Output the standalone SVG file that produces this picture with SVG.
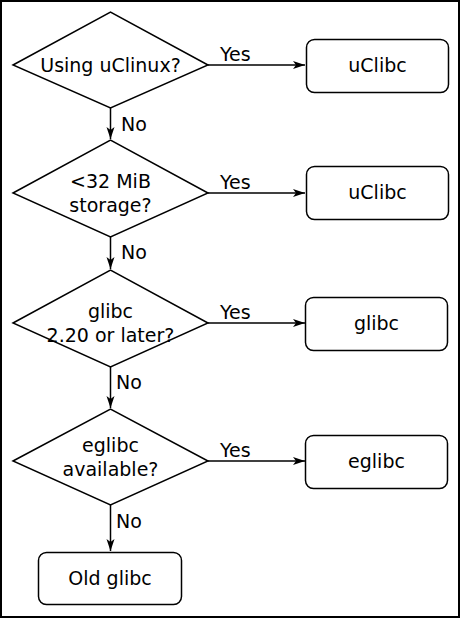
<svg xmlns="http://www.w3.org/2000/svg" width="460" height="618" viewBox="0 0 460 618">
<defs>
<style>
.shape{fill:#fff;stroke:#000;stroke-width:1.5}
.line{fill:none;stroke:#000;stroke-width:1.5}
text{font-family:"DejaVu Sans",sans-serif;font-size:19px;fill:#000}
.c{text-anchor:middle}
</style>
<marker id="ah" markerWidth="14" markerHeight="10" viewBox="-13 -5 14 10" refX="0" refY="0" orient="auto" markerUnits="userSpaceOnUse">
<path d="M0,0 L-12,-4 L-9,0 L-12,4 Z" fill="#000"/>
</marker>
</defs>
<rect x="1" y="1" width="458" height="616" fill="#fff" stroke="#000" stroke-width="2"/>
<g id="connectors">
<line class="line" x1="208" y1="65" x2="305" y2="65" marker-end="url(#ah)"/>
<text x="220" y="61">Yes</text>
<line class="line" x1="110.5" y1="108" x2="110.5" y2="139" marker-end="url(#ah)"/>
<text x="121" y="131">No</text>
<line class="line" x1="208" y1="193" x2="305" y2="193" marker-end="url(#ah)"/>
<text x="220" y="189">Yes</text>
<line class="line" x1="110.5" y1="237" x2="110.5" y2="269" marker-end="url(#ah)"/>
<text x="121" y="259">No</text>
<line class="line" x1="208" y1="323" x2="305" y2="323" marker-end="url(#ah)"/>
<text x="220" y="319">Yes</text>
<line class="line" x1="110.5" y1="367" x2="110.5" y2="408" marker-end="url(#ah)"/>
<text x="116" y="389">No</text>
<line class="line" x1="208" y1="461" x2="305" y2="461" marker-end="url(#ah)"/>
<text x="220" y="457">Yes</text>
<line class="line" x1="110.5" y1="505" x2="110.5" y2="551" marker-end="url(#ah)"/>
<text x="116" y="528">No</text>
</g>
<g id="d1">
<polygon class="shape" points="13,65 110.5,12 208,65 110.5,108"/>
<text class="c" x="110.5" y="72">Using uClinux?</text>
</g>
<g id="b1">
<rect class="shape" x="306.5" y="39.5" width="142" height="53" rx="8"/>
<text class="c" x="377.5" y="72">uClibc</text>
</g>
<g id="d2">
<polygon class="shape" points="13,193 110.5,140 208,193 110.5,237"/>
<text class="c" x="110.5" y="188">&lt;32 MiB</text>
<text class="c" x="110.5" y="212">storage?</text>
</g>
<g id="b2">
<rect class="shape" x="306.5" y="166.5" width="142" height="53" rx="8"/>
<text class="c" x="377.5" y="199">uClibc</text>
</g>
<g id="d3">
<polygon class="shape" points="13,323 110.5,270 208,323 110.5,367"/>
<text class="c" x="110.5" y="318">glibc</text>
<text class="c" x="110.5" y="342">2.20 or later?</text>
</g>
<g id="b3">
<rect class="shape" x="305.5" y="297.5" width="142" height="53" rx="8"/>
<text class="c" x="376.5" y="330">glibc</text>
</g>
<g id="d4">
<polygon class="shape" points="13,461 110.5,409 208,461 110.5,505"/>
<text class="c" x="110.5" y="452">eglibc</text>
<text class="c" x="110.5" y="476">available?</text>
</g>
<g id="b4">
<rect class="shape" x="305.5" y="435.5" width="142" height="53" rx="8"/>
<text class="c" x="376.5" y="468">eglibc</text>
</g>
<g id="b5">
<rect class="shape" x="38.5" y="552.5" width="143" height="52" rx="8"/>
<text class="c" x="110" y="585">Old glibc</text>
</g>
</svg>
